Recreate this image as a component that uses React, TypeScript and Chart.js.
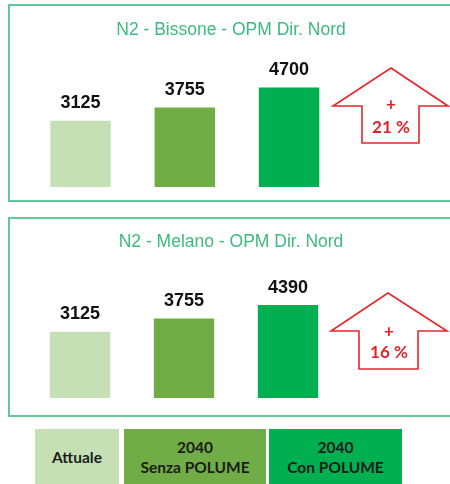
import React, { useEffect, useRef } from "react";
import { Chart, registerables } from "chart.js";

Chart.register(...registerables);

const categories = ["Attuale", "2040 Senza POLUME", "2040 Con POLUME"];
const legendLines = [["Attuale"], ["2040", "Senza POLUME"], ["2040", "Con POLUME"]];
const barColors = ["#c5e0b4", "#70ad47", "#00b050"];

const titles = ["N2 - Bissone - OPM Dir. Nord", "N2 - Melano - OPM Dir. Nord"];
const bissoneValues = [3125, 3755, 4700];
const melanoValues = [3125, 3755, 4390];
const increaseLabels = ["21 %", "16 %"];

const Y_MAX = 6000;

type PanelCfg = {
  title: string;
  values: number[];
  pct: string;
  pad: { left: number; right: number; top: number; bottom: number };
  titleY: number;
  arrow: { l: number; apex: number; r: number; sl: number; sr: number; baseY: number; apexY: number; bottomY: number; plusY: number; pctY: number; cx: number };
};

const panels: PanelCfg[] = [
  {
    title: titles[0],
    values: bissoneValues,
    pct: increaseLabels[0],
    pad: { left: 28.4, right: 108.8, top: 60, bottom: 23 },
    titleY: 30,
    arrow: { l: 333, apex: 391, r: 448, sl: 362, sr: 419, baseY: 106, apexY: 68, bottomY: 143, plusY: 105, pctY: 128, cx: 391 },
  },
  {
    title: titles[1],
    values: melanoValues,
    pct: increaseLabels[1],
    pad: { left: 28, right: 110, top: 61, bottom: 22 },
    titleY: 32,
    arrow: { l: 331, apex: 388, r: 447, sl: 359, sr: 418, baseY: 121, apexY: 83, bottomY: 159, plusY: 122, pctY: 143, cx: 389 },
  },
];

function PanelChart({ cfg, top }: { cfg: PanelCfg; top: number }) {
  const ref = useRef<HTMLCanvasElement | null>(null);
  useEffect(() => {
    if (!ref.current) return;
    const decor = {
      id: "decor",
      afterDatasetsDraw(chart: any) {
        const ctx = chart.ctx;
        ctx.save();
        // title
        ctx.fillStyle = "#3dba7e";
        ctx.font = "17.5px 'Liberation Sans', Arial, sans-serif";
        ctx.textAlign = "center";
        ctx.textBaseline = "middle";
        ctx.fillText(cfg.title, 231, cfg.titleY);
        // value labels
        const meta = chart.getDatasetMeta(0);
        ctx.fillStyle = "#111111";
        ctx.font = "bold 18px 'Liberation Sans', Arial, sans-serif";
        meta.data.forEach((el: any, i: number) => {
          ctx.fillText(String(cfg.values[i]), el.x, el.y - 17.5);
        });
        // arrow
        const a = cfg.arrow;
        ctx.beginPath();
        ctx.moveTo(a.apex, a.apexY);
        ctx.lineTo(a.r, a.baseY);
        ctx.lineTo(a.sr, a.baseY);
        ctx.lineTo(a.sr, a.bottomY);
        ctx.lineTo(a.sl, a.bottomY);
        ctx.lineTo(a.sl, a.baseY);
        ctx.lineTo(a.l, a.baseY);
        ctx.closePath();
        ctx.fillStyle = "#ffffff";
        ctx.fill();
        ctx.strokeStyle = "#e8262b";
        ctx.lineWidth = 1.6;
        ctx.lineJoin = "miter";
        ctx.stroke();
        ctx.fillStyle = "#e0232a";
        ctx.font = "bold 17px Lato, 'Open Sans', sans-serif";
        ctx.fillText("+", a.cx, a.plusY);
        ctx.fillText(cfg.pct, a.cx, a.pctY);
        ctx.restore();
      },
    };
    const chart = new Chart(ref.current, {
      type: "bar",
      data: {
        labels: categories,
        datasets: [
          {
            data: cfg.values,
            backgroundColor: barColors,
            borderWidth: 0,
            categoryPercentage: 1,
            barPercentage: 0.58,
          },
        ],
      },
      options: {
        responsive: false,
        animation: false,
        layout: { padding: cfg.pad },
        plugins: { legend: { display: false }, tooltip: { enabled: false }, title: { display: false } },
        scales: {
          x: { display: false },
          y: { display: false, min: 0, max: Y_MAX },
        },
      },
      plugins: [decor],
    } as any);
    return () => chart.destroy();
  }, [cfg]);
  return (
    <canvas
      ref={ref}
      width={450}
      height={210}
      style={{ position: "absolute", left: 0, top, width: 450, height: 210 }}
    />
  );
}

export default function App() {
  useEffect(() => {
    document.body.style.margin = "0";
    document.body.style.background = "#ffffff";
  }, []);
  const border = "2px solid #62c797";
  const legendBoxes = [
    { left: 35, width: 84 },
    { left: 124, width: 142 },
    { left: 269, width: 133 },
  ];
  return (
    <div style={{ position: "relative", width: 450, height: 484, overflow: "hidden", background: "#fff" }}>
      <div style={{ position: "absolute", left: 8, top: 4, width: 460, height: 198, border, boxSizing: "border-box" }} />
      <div style={{ position: "absolute", left: 8, top: 217, width: 460, height: 200, border, boxSizing: "border-box" }} />
      <PanelChart cfg={panels[0]} top={0} />
      <PanelChart cfg={panels[1]} top={210} />
      {legendBoxes.map((b, i) => (
        <div
          key={i}
          style={{
            position: "absolute",
            left: b.left,
            top: 429,
            width: b.width,
            height: 56,
            background: barColors[i],
            display: "flex",
            flexDirection: "column",
            alignItems: "center",
            justifyContent: "center",
            fontFamily: "Lato, 'Open Sans', sans-serif",
            fontWeight: 700,
            fontSize: 15.5,
            lineHeight: "20px",
            color: "#1c1c1c",
          }}
        >
          {legendLines[i].map((t, j) => (
            <div key={j}>{t}</div>
          ))}
        </div>
      ))}
    </div>
  );
}
